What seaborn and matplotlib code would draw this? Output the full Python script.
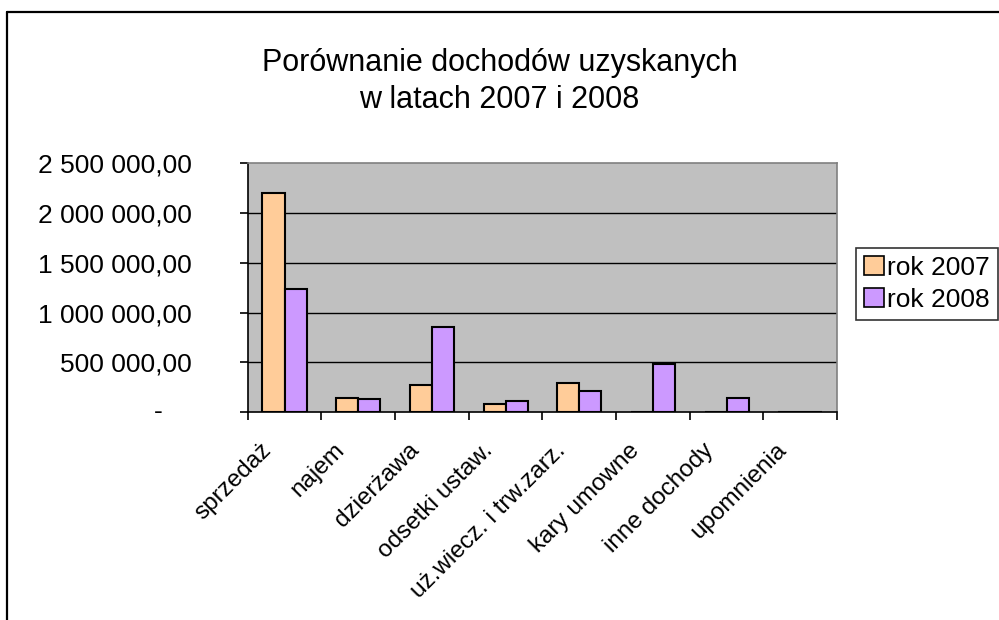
import numpy as np
import pandas as pd
import matplotlib
matplotlib.use("Agg")
import matplotlib.pyplot as plt
import seaborn as sns
from matplotlib.lines import Line2D
from matplotlib.ticker import FixedLocator

# data
categories = ["sprzedaż", "najem", "dzierżawa", "odsetki ustaw.", "uż.wiecz. i trw.zarz.",
              "kary umowne", "inne dochody", "upomnienia"]
rok_2007 = [2195000, 147000, 274000, 80000, 291000, 0, 0, 0]
rok_2008 = [1241000, 130000, 856000, 113000, 211000, 485000, 147000, 0]
years = ["rok 2007", "rok 2008"]
yticks = [0, 500000, 1000000, 1500000, 2000000, 2500000]

df = pd.DataFrame({
    "kategoria": categories * 2,
    "rok": [years[0]] * len(categories) + [years[1]] * len(categories),
    "wartosc": rok_2007 + rok_2008,
})

sns.set_style("white")
plt.rcParams['font.family'] = ['Liberation Sans', 'DejaVu Sans']
plt.rcParams['text.color'] = 'black'
plt.rcParams['xtick.color'] = 'black'
plt.rcParams['ytick.color'] = 'black'

FS = 19

fig = plt.figure(figsize=(9.99, 6.2), dpi=100)
ax = fig.add_axes([0.248, 0.335, 0.59, 0.402])

sns.barplot(data=df, x="kategoria", y="wartosc", hue="rok",
            palette=["#FFCC99", "#CC99FF"], width=0.6, saturation=1,
            edgecolor="black", linewidth=1.5, ax=ax)

ax.set_facecolor("#C0C0C0")
ax.set_xlim(-0.5, len(categories) - 0.5)
ax.set_ylim(0, 2500000)
ax.set_xlabel("")
ax.set_ylabel("")

# gridlines
for v in yticks[1:-1]:
    ax.axhline(v, color="black", lw=1, zorder=0.5)

for side in ["top", "right"]:
    ax.spines[side].set_color("#808080")
    ax.spines[side].set_linewidth(1.2)
for side in ["left", "bottom"]:
    ax.spines[side].set_color("black")
    ax.spines[side].set_linewidth(1.2)

# y axis: "2 500 000,00" style, zero shown as "-"
ax.yaxis.set_major_locator(FixedLocator(yticks))
ax.set_yticklabels([f"{v:,.0f}".replace(",", " ") + ",00" if v else "" for v in yticks])
ax.tick_params(axis="y", direction="out", length=6, width=1.2, color="black",
               labelsize=FS, labelcolor="black", pad=34, left=True)
ax.annotate("-", xy=(0, 0), xycoords=("axes fraction", "data"),
            xytext=(-61, 0), textcoords="offset points",
            ha="right", va="center", fontsize=FS)

# x axis: tick marks at category boundaries, rotated labels under centres
ax.set_xticks(range(len(categories)))
ax.set_xticklabels([])
ax.tick_params(axis="x", which="major", length=0)
ax.set_xticks(np.arange(-0.5, len(categories), 1.0), minor=True)
ax.tick_params(axis="x", which="minor", direction="out", length=6, width=1.2,
               color="black", bottom=True)
for i, name in enumerate(categories):
    ax.annotate(name, xy=(i, 0), xycoords=("data", "axes fraction"),
                xytext=(-12, -25), textcoords="offset points",
                rotation=45, rotation_mode="anchor", ha="right", va="center",
                fontsize=17.5)

ax.get_legend().remove()
handles = [plt.Rectangle((0, 0), 1, 1, facecolor=c, edgecolor="black", lw=1.2)
           for c in ["#FFCC99", "#CC99FF"]]
leg = fig.legend(handles, years, loc="upper left", bbox_to_anchor=(0.857, 0.6),
                 fontsize=FS, frameon=True, fancybox=False, handlelength=0.75,
                 handleheight=0.75, handletextpad=0.12, borderpad=0.3,
                 labelspacing=0.3, borderaxespad=0)
leg.get_frame().set_edgecolor("black")
leg.get_frame().set_linewidth(1.2)

# title, two lines
fig.text(0.5, 1 - 71 / 620, "Porównanie dochodów uzyskanych",
         ha="center", va="baseline", fontsize=22)
fig.text(0.5, 1 - 108 / 620, "w latach 2007 i 2008",
         ha="center", va="baseline", fontsize=22)

# outer chart frame (top and left edges visible)
fig.add_artist(Line2D([0.0075, 1.0], [0.98, 0.98], color="black", lw=1.6,
                      transform=fig.transFigure))
fig.add_artist(Line2D([0.0075, 0.0075], [0.0, 0.98], color="black", lw=1.6,
                      transform=fig.transFigure))

fig.savefig("out.png", dpi=100)
